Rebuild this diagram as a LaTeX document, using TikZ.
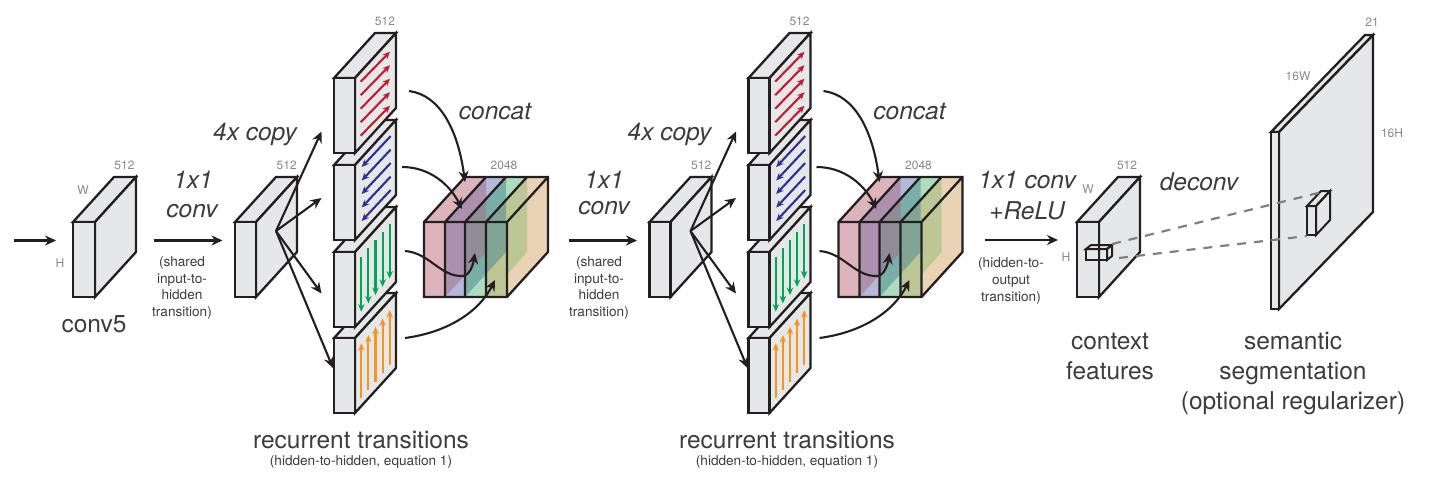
\documentclass[tikz,border=0pt]{standalone}
\usepackage{fontspec}
\setmainfont{TeX Gyre Heros}
\usetikzlibrary{arrows.meta}

\definecolor{slabgray}{RGB}{230,231,232}
\definecolor{inkblack}{RGB}{35,31,32}
\definecolor{dimgray}{RGB}{135,136,140}
\definecolor{textgray}{RGB}{60,60,62}
\definecolor{rnnred}{RGB}{190,30,45}
\definecolor{rnnblue}{RGB}{46,49,146}
\definecolor{rnngreen}{RGB}{0,166,81}
\definecolor{rnnorange}{RGB}{247,148,29}
\definecolor{sliceA}{RGB}{222,180,188}
\definecolor{sliceB}{RGB}{180,185,215}
\definecolor{sliceC}{RGB}{175,220,190}
\definecolor{sliceD}{RGB}{234,210,180}
\definecolor{sideA}{RGB}{165,105,135}
\definecolor{sideB}{RGB}{70,130,150}
\definecolor{sideC}{RGB}{146,190,120}

\tikzset{
  slabline/.style={draw=inkblack, line width=2.3pt, fill=slabgray},
  conn/.style={-{Stealth[length=11pt,width=10pt]}, line width=2.1pt, draw=inkblack},
  flow/.style={-{Stealth[length=7.5pt,width=6.5pt]}, line width=2.1pt},
  proj/.style={draw=black!50, line width=2.2pt, dash pattern=on 9pt off 8pt},
  bigtext/.style={font=\fontsize{24.5}{30}\selectfont, text=textgray, inner sep=0pt, align=center},
  opname/.style={font=\fontsize{24.5}{31}\selectfont\itshape, text=textgray, inner sep=0pt, align=center},
  smalltext/.style={font=\fontsize{13.6}{16.7}\selectfont, text=textgray, inner sep=0pt, align=center},
  dimtext/.style={font=\fontsize{12}{14}\selectfont, text=dimgray, inner sep=0pt},
}

% x y w h dx dy
\newcommand{\slab}[7][slabline]{
  \draw[#1] (#2+#4,#3) -- ++(#6,-#7) -- ++(-#4,0) -- ++(-#6,#7) -- cycle;
  \draw[#1] (#2+#4,#3) -- ++(#6,-#7) -- ++(0,#5) -- ++(-#6,#7) -- cycle;
  \draw[#1] (#2,#3) rectangle ++(#4,#5);
}

\begin{document}
\begin{tikzpicture}[x=1pt,y=-1pt]
  \useasboundingbox (0,0) rectangle (1438,485);

  % first block
  \slab{73}{222}{22}{75}{41}{45}
  \node[dimtext] (dimw) at (83,190.5) {W};
  \node[dimtext] (dimh) at (60,263.5) {H};
  \node[dimtext] (dimd) at (124.5,165) {512};
  \node[bigtext] (convfive) at (94,324) {conv5};
  \coordinate (inA) at (14,240.5);
  \coordinate (inB) at (56,240.5);
  \draw[conn] (inA) -- (inB);

  % the repeated section
  \foreach \sx/\sn in {0/a,414.5/b}{
    \begin{scope}[xshift=\sx pt]
      \coordinate (hid\sn A) at (154,240.5);
      \coordinate (hid\sn B) at (222.5,240.5);
      \draw[conn] (hid\sn A) -- (hid\sn B);

      \slab{235}{222}{21}{75}{41}{45}

      % stacks, lowest first
      \slab{334}{338}{21}{75}{41}{45}
      \slab{334}{252}{21}{75}{41}{45}
      \slab{334}{165}{21}{75}{41}{45}
      \slab{334}{78}{21}{75}{41}{45}
      \foreach \i in {0,...,4}{
        \draw[flow, rnnred] (360.7,81.7+13.5*\i) -- (390,51.7+13.5*\i);
        \draw[flow, rnnblue] (390.7,136+13.5*\i) -- (361.7,167+13.5*\i);
        \draw[flow, rnngreen] (361.3+7.1*\i,256.7-8.3*\i) -- (361.3+7.1*\i,311.7-8.3*\i);
        \draw[flow, rnnorange] (361.3+7.1*\i,398.3-8.3*\i) -- (361.3+7.1*\i,343.3-8.3*\i);
      }

      % fan out
      \coordinate (fan\sn) at (276,231);
      \coordinate (fan\sn A) at (321.5,131.5);
      \coordinate (fan\sn B) at (321.5,198);
      \coordinate (fan\sn C) at (321.5,293.5);
      \coordinate (fan\sn D) at (333,368);
      \foreach \t in {A,B,C,D}{
        \draw[conn] (fan\sn) -- (fan\sn\t);
      }

      % concat block
      \fill[sliceD] (486,222) -- (527,177) -- (548,177) -- (548,252) -- (507,297) -- (486,297) -- cycle;
      \fill[sliceC] (465,222) -- (506,177) -- (527,177) -- (486,222) -- cycle;
      \fill[sliceB] (445,222) -- (486,177) -- (506,177) -- (465,222) -- cycle;
      \fill[sliceA] (424,222) -- (465,177) -- (486,177) -- (445,222) -- cycle;
      \fill[sliceA] (424,222) rectangle (445,297);
      \fill[sliceB] (445,222) rectangle (465,297);
      \fill[sliceC] (465,222) rectangle (486,297);
      \fill[sliceD] (486,222) rectangle (507,297);
      \fill[sideC, fill opacity=.5] (486,222) -- (527,177) -- (527,252) -- (507,274.8) -- (507,297) -- (486,297) -- cycle;
      \fill[sideB, fill opacity=.5] (465,222) -- (506,177) -- (506,252) -- (465,297) -- cycle;
      \fill[sideA, fill opacity=.5] (445,222) -- (486,177) -- (486,252) -- (445,297) -- cycle;
      \draw[draw=inkblack, line width=2.3pt, line join=miter]
        (424,222) -- (465,177) -- (548,177) -- (548,252) -- (507,297) -- (424,297) -- cycle
        (424,222) -- (507,222) -- (548,177)
        (507,222) -- (507,297)
        (445,222) -- (445,297) (465,222) -- (465,297) (486,222) -- (486,297)
        (445,222) -- (486,177) (465,222) -- (506,177) (486,222) -- (527,177);

      % into the block
      \coordinate (mrgA) at (409,91);
      \coordinate (mrgAe) at (465,182);
      \coordinate (mrgB) at (402,167);
      \coordinate (mrgBe) at (462,209);
      \coordinate (mrgC) at (405,251);
      \coordinate (mrgCm) at (463,276);
      \coordinate (mrgCe) at (475,253);
      \coordinate (mrgD) at (405,338);
      \coordinate (mrgDe) at (495,280);
      \draw[conn] (mrgA) .. controls (440,95) and (458,130) .. (mrgAe);
      \draw[conn] (mrgB) .. controls (430,167) and (450,185) .. (mrgBe);
      \draw[conn] (mrgC) .. controls (430,253) and (440,277) .. (mrgCm) .. controls (470,275) and (473,265) .. (mrgCe);
      \draw[conn] (mrgD) .. controls (450,332) and (480,310) .. (mrgDe);

      \node[dimtext] (cubed\sn) at (286.7,165) {512};
      \node[dimtext] (stackd\sn) at (385,21.7) {512};
      \node[dimtext] (mrgd\sn) at (504,165) {2048};
      \node[opname] (copy\sn) at (255,134) {4x copy};
      \node[opname] (concat\sn) at (495,111) {concat};
    \end{scope}
  }

  \node[opname] (convAa) at (193,180) {1x1};
  \node[opname] (convAb) at (192,211) {conv};
  \node[smalltext] (sharedA) at (182,288) {(shared\\input-to-\\hidden\\transition)};
  \node[opname] (convBa) at (604,180) {1x1};
  \node[opname] (convBb) at (604,208) {conv};
  \node[smalltext] (sharedB) at (599,288) {(shared\\input-to-\\hidden\\transition)};
  \node[bigtext] (rnnA) at (361,440) {recurrent transitions};
  \node[smalltext] (eqnA) at (361,462) {(hidden-to-hidden, equation 1)};
  \node[bigtext] (rnnB) at (787,440) {recurrent transitions};
  \node[smalltext] (eqnB) at (787,462) {(hidden-to-hidden, equation 1)};

  % output side
  \coordinate (outA) at (985,240);
  \coordinate (outB) at (1058,240);
  \draw[conn] (outA) -- (outB);
  \node[opname] (outconv) at (1027,195.5) {1x1 conv\\+ReLU};
  \node[smalltext] (outnote) at (1011,281) {(hidden-to-\\output\\transition)};

  \slab{1077}{222}{22}{75}{41}{45}
  \node[dimtext] (ctxd) at (1127,165) {512};
  \node[dimtext] (ctxw) at (1088,189) {W};
  \node[dimtext] (ctxh) at (1066,257) {H};
  \node[bigtext] (ctx) at (1110,356) {context\\features};
  \node[opname] (deconv) at (1199,182) {deconv};

  \slab{1271}{132}{8}{177}{94}{97}
  \node[dimtext] (segd) at (1372,22) {21};
  \node[dimtext] (segw) at (1298,76) {16W};
  \node[dimtext] (segh) at (1392,133) {16H};
  \node[bigtext] (seg) at (1293,374) {semantic\\segmentation\\(optional regularizer)};

  \slab[draw=inkblack, line width=2pt]{1086}{249}{21}{11}{5}{4}
  \slab[draw=inkblack, line width=2pt]{1307}{206}{9}{29}{14}{15}

  \coordinate (rayA) at (1112,244);
  \coordinate (rayAe) at (1322,192);
  \coordinate (rayB) at (1119,258);
  \coordinate (rayBe) at (1307,236);
  \draw[proj] (rayA) -- (rayAe);
  \draw[proj] (rayB) -- (rayBe);
\end{tikzpicture}
\end{document}
